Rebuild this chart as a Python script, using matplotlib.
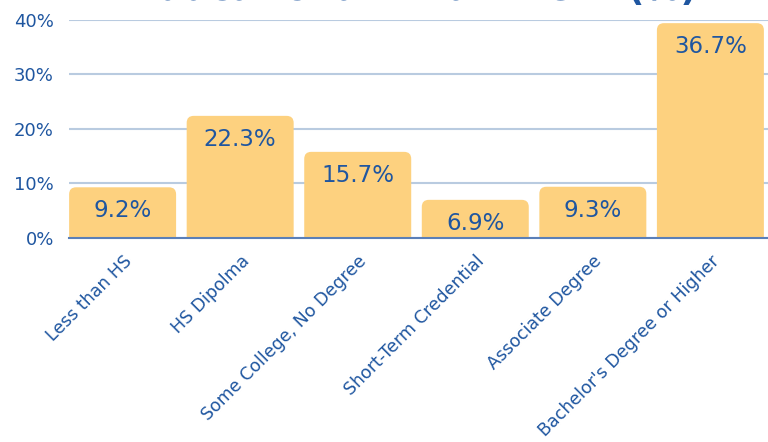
import numpy as np
import matplotlib.pyplot as plt
from matplotlib.patches import FancyBboxPatch

categories = ['Less than HS', 'HS Dipolma', 'Some College, No Degree',
              'Short-Term Credential', 'Associate Degree',
              "Bachelor's Degree or Higher"]
# bar heights as drawn in the picture, labels as printed on the bars
heights = [9.3, 22.4, 15.8, 7.0, 9.4, 39.4]
bar_labels = ['9.2%', '22.3%', '15.7%', '6.9%', '9.3%', '36.7%']
yticks = [0, 10, 20, 30, 40]

blue = '#1f56a0'
bar_color = '#fdd17f'

plt.rcParams['font.family'] = ['DejaVu Sans']

fig = plt.figure(figsize=(7.68, 4.42), dpi=100)
ax = fig.add_axes([0.09, 0.4615, 0.91, 0.4935])

x = np.arange(len(categories))
width = 0.91
bars = ax.bar(x, heights, width=width, color='none')

ax.set_xlim(-0.455, 5.49)
ax.set_ylim(0, 40)

# rounded top corners: draw a rounded box that extends below zero and gets clipped
px_per_x = 0.91 * 768 / (5.49 + 0.455)
px_per_y = 0.4935 * 442 / 40
aspect = px_per_x / px_per_y
r = 7 / px_per_x
for b in bars:
    p = FancyBboxPatch((b.get_x(), -3), b.get_width(), b.get_height() + 3,
                       boxstyle=f'round,pad=0,rounding_size={r}',
                       mutation_aspect=aspect, facecolor=bar_color,
                       edgecolor='none', zorder=2, clip_on=True)
    ax.add_patch(p)

for xi, h, lab in zip(x, heights, bar_labels):
    ax.annotate(lab, (xi, h), xytext=(0, -17), textcoords='offset points',
                ha='center', va='center', fontsize=16.5, color=blue, zorder=3)

ax.set_yticks(yticks)
ax.set_yticklabels([f'{t}%' for t in yticks], fontsize=13, color=blue)
ax.grid(axis='y', color='#b9cbe0', linewidth=1.5, zorder=0)
ax.set_axisbelow(True)
for s in ['top', 'right', 'left']:
    ax.spines[s].set_visible(False)
ax.spines['bottom'].set_color('#5a7fb8')
ax.spines['bottom'].set_linewidth(1.5)
ax.spines['bottom'].set_zorder(4)
ax.tick_params(axis='both', length=0)
ax.tick_params(axis='y', pad=11)

ax.set_xticks(x)
ax.set_xticklabels(categories, rotation=45, ha='right', rotation_mode='anchor',
                   fontsize=12.5, color=blue)
ax.tick_params(axis='x', pad=10)

# title sits mostly above the top edge, as in the reference
fig.text(0.54, 0.999, 'Educational Attainment (%)', ha='center', va='baseline',
         fontsize=26, fontweight='bold', color=blue)

fig.savefig('out.png', dpi=100)
